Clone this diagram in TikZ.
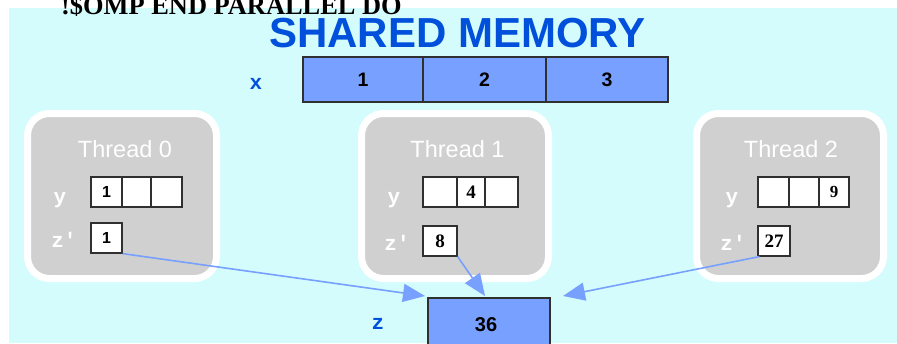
\documentclass[tikz,border=0pt]{standalone}
\usepackage{fontspec}
\setmainfont{Liberation Serif}
\setsansfont{Liberation Sans}
\setmonofont{Liberation Mono}
\usetikzlibrary{arrows.meta}
\definecolor{bgcyan}{HTML}{D4FCFC}
\definecolor{titleblue}{HTML}{0050DC}
\definecolor{cellblue}{HTML}{78A0FF}
\definecolor{threadgray}{HTML}{D0D0D0}
\definecolor{cellline}{HTML}{303030}
\newcommand{\fsz}[1]{\fontsize{#1}{#1}\selectfont}
\begin{document}
\begin{tikzpicture}[x=1pt,y=-1pt,
  thread/.style={draw=white, line width=7pt, fill=threadgray, rounded corners=22pt},
  cell/.style={draw=cellline, line width=1.2pt, fill=white, inner sep=0pt,
    font=\sffamily\bfseries\fsz{16}},
  scell/.style={cell, font=\rmfamily\bfseries\fsz{19}},
  shared/.style={cell, fill=cellblue, font=\sffamily\bfseries\fsz{19.5}},
  varlabel/.style={anchor=base, inner sep=0pt, font=\ttfamily\bfseries\fsz{21}},
  threadtitle/.style={anchor=base, inner sep=0pt, text=white, font=\sffamily\fsz{23.5}},
  arrowline/.style={draw=cellblue, line width=1.6pt,
    -{Triangle[length=22pt,width=18pt]}}
]
\useasboundingbox (0,0) rectangle (897,343);
\clip (0,0) rectangle (897,343);

% background panel
\fill[bgcyan] (9,8) rectangle (897,343);

% headings
\node[anchor=base west, inner sep=0pt, font=\rmfamily\bfseries\fsz{26.4}] (omp) at (61,14) {!\$OMP END PARALLEL DO};
\node[anchor=base, inner sep=0pt, text=titleblue, font=\sffamily\bfseries\fsz{42}] (head) at (457.5,47) {SHARED MEMORY};

% shared array x
\node[varlabel, text=titleblue] (xlab) at (256,89) {x};
\node[shared, minimum width=120pt, minimum height=45pt] (x1) at (363,79.5) {1};
\node[shared, minimum width=123pt, minimum height=45pt] (x2) at (484.5,79.5) {2};
\node[shared, minimum width=122pt, minimum height=45pt] (x3) at (607,79.5) {3};

% thread 0
\draw[thread] (27.5,113.5) rectangle (216.5,278.5);
\node[threadtitle] (t0) at (125,157) {Thread 0};
\node[varlabel, text=white] (y0lab) at (60,203) {y};
\node[varlabel, text=white] (z0lab) at (64,247) {z'};
\node[cell, minimum width=31pt, minimum height=30pt] (y00) at (106.5,192) {1};
\node[cell, minimum width=29pt, minimum height=30pt] (y01) at (136.5,192) {};
\node[cell, minimum width=31pt, minimum height=30pt] (y02) at (166.5,192) {};
\node[cell, minimum width=31pt, minimum height=30pt] (z0) at (106.5,238) {1};

% thread 1
\draw[thread] (361.5,113.5) rectangle (548.5,278.5);
\node[threadtitle] (t1) at (457.5,157) {Thread 1};
\node[varlabel, text=white] (y1lab) at (394,203) {y};
\node[varlabel, text=white] (z1lab) at (397,250) {z'};
\node[cell, minimum width=34pt, minimum height=30pt] (y10) at (440,192) {};
\node[scell, minimum width=28pt, minimum height=30pt] (y11) at (471,192) {4};
\node[cell, minimum width=33pt, minimum height=30pt] (y12) at (501.5,192) {};
\node[scell, minimum width=34pt, minimum height=30pt] (z1) at (440,241) {8};

% thread 2
\draw[thread] (696.5,113.5) rectangle (883.5,278.5);
\node[threadtitle] (t2) at (791,157) {Thread 2};
\node[varlabel, text=white] (y2lab) at (732,203) {y};
\node[varlabel, text=white] (z2lab) at (733,250) {z'};
\node[cell, minimum width=31pt, minimum height=30pt] (y20) at (773.5,192) {};
\node[cell, minimum width=30pt, minimum height=30pt] (y21) at (804,192) {};
\node[scell, minimum width=30pt, minimum height=30pt, font=\rmfamily\bfseries\fsz{17}] (y22) at (834,192) {9};
\node[scell, minimum width=32pt, minimum height=30pt] (z2) at (774,241) {27};

% reduction target z
\node[varlabel, text=titleblue] (zlab) at (378,329) {z};
\node[shared, minimum width=122pt, minimum height=56pt] (zres) at (489,326) {};
\node[anchor=base, inner sep=0pt, font=\sffamily\bfseries\fsz{20}] (zval) at (486,331) {36};

% reduction arrows
\coordinate (tip0) at (425,296);
\coordinate (tip1) at (485,296);
\coordinate (tip2) at (563,296);
\draw[arrowline] (z0.south east) -- (tip0);
\draw[arrowline] (z1.south east) -- (tip1);
\draw[arrowline] ([xshift=2pt]z2.south west) -- (tip2);
\end{tikzpicture}
\end{document}
